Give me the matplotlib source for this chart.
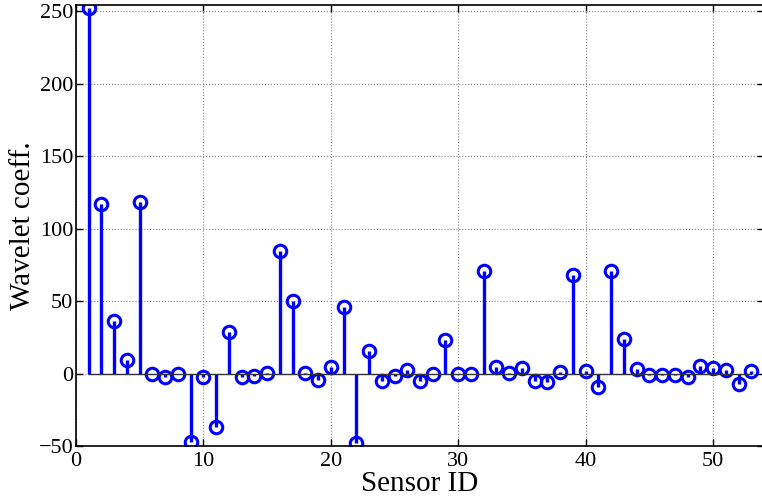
import matplotlib.pyplot as plt

# Wavelet coefficients per sensor
sensor_ids = list(range(1, 54))
coeffs = [252, 117, 36.3, 9.3, 118, 0, -2.1, 0, -47.4, -2.5,
          -37, 28.8, -2.3, -1.8, 0.3, 84.3, 49.7, 0.2, -4.4, 4.6,
          45.6, -47.9, 15.6, -5, -2, 2.3, -5, 0, 23, -0.5,
          -0.3, 70.4, 4.8, 0.5, 4.1, -4.8, -5.8, 1.2, 68.1, 1.6,
          -9.2, 70.4, 23.9, 2.8, -1.2, -0.9, -1.2, -2.1, 5.5, 3.9,
          2.3, -6.9, 1.6]
x_ticks = [0, 10, 20, 30, 40, 50]
y_ticks = [-50, 0, 50, 100, 150, 200, 250]

plt.rcParams['font.family'] = ['Liberation Serif', 'DejaVu Serif']

fig = plt.figure(figsize=(7.62, 5.04), dpi=100)
ax = fig.add_axes([0.0997, 0.115, 0.903, 0.876])

markers, stems, base = ax.stem(sensor_ids, coeffs)
plt.setp(stems, color='#0000ff', linewidth=2.4)
plt.setp(markers, color='#0000ff', marker='o', markersize=9,
         markerfacecolor='none', markeredgewidth=2.2)
plt.setp(base, color='#333333', linewidth=1.0)

ax.set_xlim(0, 54)
ax.set_ylim(-50, 254.5)
ax.set_xticks(x_ticks)
ax.set_yticks(y_ticks)
ax.grid(True, linestyle=':', color='#888888', linewidth=0.8)
ax.set_axisbelow(True)
ax.tick_params(direction='in', top=True, right=True, labelsize=16,
               length=5, width=1)
ax.tick_params(axis='x', pad=4)
ax.tick_params(axis='y', pad=2)
for s in ax.spines.values():
    s.set_linewidth(1.2)

ax.set_xlabel('Sensor ID', fontsize=21, labelpad=0)
ax.set_ylabel('Wavelet coeff.', fontsize=21, labelpad=2)

fig.savefig('out.png', dpi=100)
